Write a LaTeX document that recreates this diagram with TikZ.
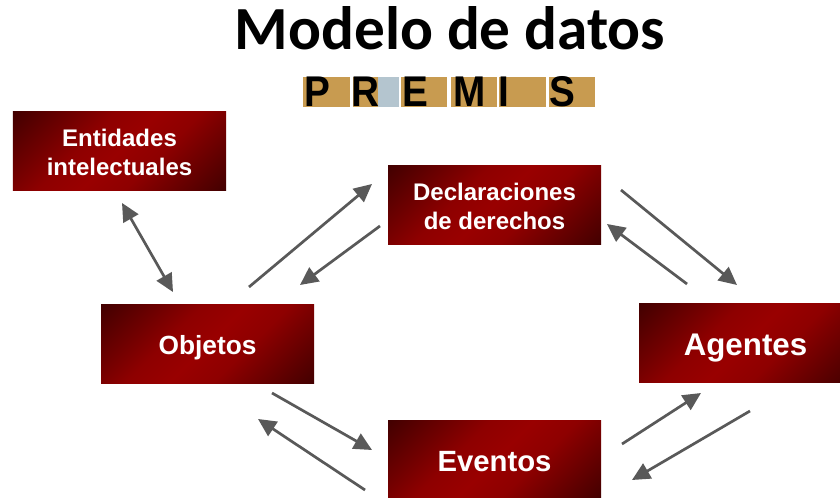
\documentclass[tikz,border=0pt]{standalone}
\usepackage{fontspec}
\setmainfont{Liberation Sans}
\newfontfamily\titlefont{Carlito}
\usetikzlibrary{arrows.meta}
\definecolor{boxdark}{HTML}{420000}
\definecolor{boxmid}{HTML}{8E0000}
\definecolor{boxred}{HTML}{990000}
\definecolor{arrowgrey}{HTML}{595959}
\definecolor{tiletan}{HTML}{C89B50}
\definecolor{tileblue}{HTML}{B4C5CF}
\pgfdeclarehorizontalshading{boxshade}{100bp}{color(0bp)=(boxdark);color(32.3bp)=(boxdark);color(44.7bp)=(boxmid);color(50bp)=(boxred);color(55.3bp)=(boxmid);color(67.7bp)=(boxdark);color(100bp)=(boxdark)}
% label whose last baseline lies #1 below the centre of its box
\newcommand{\boxlabel}[2]{\raisebox{-#1}[0pt][0pt]{\begin{tabular}[b]{@{}c@{}}#2\end{tabular}}}
\tikzset{
  x=1bp,y=-1bp,
  redbox/.style={minimum width=213bp,minimum height=79.5bp,inner sep=0pt,align=center,text=white,
    font=\bfseries\fontsize{24bp}{29bp}\selectfont,
    path picture={\shade[shading=boxshade,shading angle=-45]
      ([xshift=-146.5bp,yshift=-146.5bp]path picture bounding box.center) rectangle
      ([xshift=146.5bp,yshift=146.5bp]path picture bounding box.center);}},
  link/.style={draw=arrowgrey,line width=2.7bp,-{Triangle[length=18bp,width=17bp]}},
  twoway/.style={draw=arrowgrey,line width=2.7bp,{Triangle[length=18bp,width=17bp]}-{Triangle[length=18bp,width=17bp]}},
  tile/.style={fill=tiletan,draw=none},
  logoletter/.style={font=\bfseries\fontsize{43bp}{43bp}\selectfont,text=black,inner sep=0pt,anchor=base,xscale=.9},
}
\begin{document}
\begin{tikzpicture}
\useasboundingbox (0,0) rectangle (840,498);
\clip (0,0) rectangle (840,498);
\fill[white] (0,0) rectangle (840,498);
\node[font=\titlefont\bfseries\fontsize{61.3bp}{61bp}\selectfont,text=black,inner sep=0pt,anchor=base] (title) at (450,50) {Modelo de datos};
% logo
\fill[tile] (302.7,76.7) rectangle (350,106.7);
\fill[tile] (352.7,76.7) rectangle (377.5,106.7);
\fill[tileblue] (377.5,76.7) rectangle (399,106.7);
\fill[tile] (400.7,76.7) rectangle (446.7,106.7);
\fill[tile] (450.7,76.7) rectangle (496.7,106.7);
\fill[tile] (499.3,76.7) rectangle (546,106.7);
\fill[tile] (548.7,76.7) rectangle (595.3,106.7);
\node[logoletter] (lp) at (317.5,106.7) {P};
\node[logoletter] (lr) at (365,106.7) {R};
\node[logoletter] (le) at (415.5,106.7) {E};
\node[logoletter] (lm) at (469.5,106.7) {M};
\node[logoletter] (li) at (504,106.7) {I};
\node[logoletter] (ls) at (562,106.7) {S};
% boxes
\node[redbox] (ent) at (119.5,151.2) {\boxlabel{24.5bp}{Entidades\\intelectuales}};
\node[redbox,font=\bfseries\fontsize{26.3bp}{29bp}\selectfont] (obj) at (207.5,344.2) {\boxlabel{9.8bp}{Objetos}};
\node[redbox] (dec) at (494.5,205.2) {\boxlabel{24.5bp}{Declaraciones\\de derechos}};
\node[redbox,font=\bfseries\fontsize{31.3bp}{33bp}\selectfont] (age) at (745.5,343.2) {\boxlabel{11.8bp}{Agentes}};
\node[redbox,font=\bfseries\fontsize{29.3bp}{33bp}\selectfont] (eve) at (494.5,460.2) {\boxlabel{11.3bp}{Eventos}};
% connector ends
\coordinate (a1) at (122,203); \coordinate (a2) at (173,292);
\coordinate (b1) at (249,287); \coordinate (b2) at (372,184);
\coordinate (c1) at (380,226); \coordinate (c2) at (300,285);
\coordinate (d1) at (621,190); \coordinate (d2) at (737,285);
\coordinate (e1) at (687,284); \coordinate (e2) at (607,224);
\coordinate (f1) at (272,393); \coordinate (f2) at (372,450);
\coordinate (g1) at (365,490); \coordinate (g2) at (258,419);
\coordinate (h1) at (622,444); \coordinate (h2) at (701,393);
\coordinate (i1) at (750,411); \coordinate (i2) at (632,480);
\draw[twoway] (a1) -- (a2);
\draw[link] (b1) -- (b2);
\draw[link] (c1) -- (c2);
\draw[link] (d1) -- (d2);
\draw[link] (e1) -- (e2);
\draw[link] (f1) -- (f2);
\draw[link] (g1) -- (g2);
\draw[link] (h1) -- (h2);
\draw[link] (i1) -- (i2);
\end{tikzpicture}
\end{document}
